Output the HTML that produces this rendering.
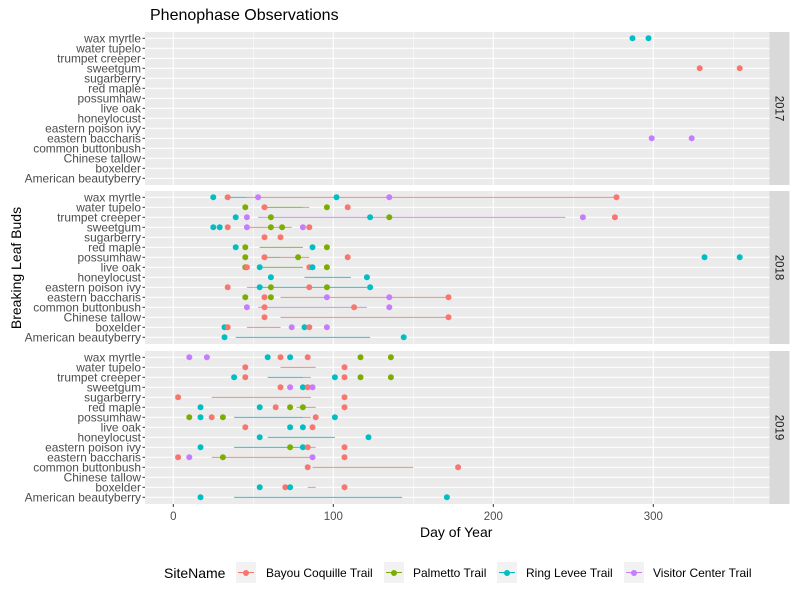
<!DOCTYPE html>
<html><head><meta charset="utf-8"><style>
body{margin:0;background:#fff;}
svg{display:block;font-family:"Liberation Sans",Arial,sans-serif;}
</style></head><body>
<svg id="chart" width="800" height="600"></svg>
<script>
const species=["wax myrtle","water tupelo","trumpet creeper","sweetgum","sugarberry","red maple","possumhaw","live oak","honeylocust","eastern poison ivy","eastern baccharis","common buttonbush","Chinese tallow","boxelder","American beautyberry"];
const sites=["Bayou Coquille Trail","Palmetto Trail","Ring Levee Trail","Visitor Center Trail"];
const years=["2017","2018","2019"];
const xTicks=[0,100,200,300];
const xMinor=[50,150,250,350];
const points2017=[[0,2,287],[0,2,297],[3,0,329],[3,0,354],[10,3,299],[10,3,324]];
const segs2017=[];
const points2018=[[0,2,25],[0,0,34],[0,3,53],[0,2,102],[0,3,135],[0,0,277],
[1,1,45],[1,0,57],[1,1,96],[1,0,109],
[2,2,39],[2,3,46],[2,1,61],[2,2,123],[2,1,135],[2,3,256],[2,0,276],
[3,2,25],[3,2,29],[3,0,34],[3,3,46],[3,1,61],[3,1,68],[3,3,81],[3,0,85],
[4,0,57],[4,0,67],
[5,2,39],[5,1,45],[5,2,87],[5,1,96],
[6,1,45],[6,0,57],[6,1,78],[6,0,109],[6,2,332],[6,2,354],
[7,1,45],[7,0,46],[7,2,54],[7,0,85],[7,2,87],[7,1,96],
[8,2,61],[8,2,121],
[9,0,34],[9,2,54],[9,1,61],[9,0,85],[9,1,96],[9,2,123],
[10,1,45],[10,0,57],[10,1,61],[10,3,96],[10,3,135],[10,0,172],
[11,3,46],[11,0,57],[11,0,113],[11,3,135],
[12,0,57],[12,0,172],
[13,2,32],[13,0,34],[13,3,74],[13,2,82],[13,0,85],[13,3,96],
[14,2,32],[14,2,144]];
const segs2018=[[0,2,32,46],[0,0,46,277],[1,1,55,81],[1,0,81,85],[2,3,53,245],[3,0,46,74],[5,1,54,81],[6,1,55,67],[6,0,67,85],[7,1,54,81],[8,2,82,111],[9,0,46,54],[9,2,54,121],[10,0,67,172],[11,3,53,121],[12,0,67,172],[13,0,46,67],[13,3,82,86],[14,2,39,123]];
const points2019=[[0,3,10],[0,3,21],[0,2,59],[0,0,67],[0,2,73],[0,0,84],[0,1,117],[0,1,136],
[1,0,45],[1,0,107],
[2,2,38],[2,0,45],[2,2,101],[2,0,107],[2,1,117],[2,1,136],
[3,0,67],[3,3,73],[3,2,81],[3,0,84],[3,3,87],
[4,0,3],[4,0,107],
[5,2,17],[5,2,54],[5,0,64],[5,1,73],[5,1,81],[5,0,107],
[6,1,10],[6,2,17],[6,0,24],[6,1,31],[6,0,89],[6,2,101],
[7,0,45],[7,2,73],[7,2,81],[7,0,87],
[8,2,54],[8,2,122],
[9,2,17],[9,1,73],[9,2,81],[9,0,84],[9,0,107],
[10,0,3],[10,3,10],[10,1,31],[10,3,87],[10,0,107],
[11,0,84],[11,0,178],
[13,2,54],[13,0,70],[13,2,73],[13,0,107],
[14,2,17],[14,2,171]];
const segs2019=[[1,0,67,89],[2,2,59,81],[2,0,81,86],[4,0,24,86],[5,0,77,89],[6,2,38,81],[6,0,81,86],[8,2,59,101],[9,2,38,81],[9,0,81,89],[10,0,24,86],[11,0,87,150],[13,0,84,89],[14,2,38,143]];

const colors=["#F8766D","#7CAE00","#00BFC4","#C77CFF"];
const NS="http://www.w3.org/2000/svg";
const svg=document.getElementById('chart');
function mk(tag,attrs,parent){const e=document.createElementNS(NS,tag);for(const k in attrs)e.setAttribute(k,attrs[k]);(parent||svg).appendChild(e);return e;}
const X0=145,X1=769.5;
function xs(d){return 173.3+d*1.6;}
const panelTops=[32,191,351];
const panelH=153;
function ys(p,row){return panelTops[p]+6.3+row*10;}
const allPts=[points2017,points2018,points2019];
const allSegs=[segs2017,segs2018,segs2019];

for(let p=0;p<3;p++){
  const g=mk('g',{});
  
  
  const bg=mk('rect',{x:X0,y:panelTops[p],width:X1-X0,height:panelH,fill:'#EBEBEB'},g);
  
  
  xMinor.forEach(v=>{mk('line',{x1:xs(v),x2:xs(v),y1:panelTops[p],y2:panelTops[p]+panelH,stroke:'#fff','stroke-width':0.55},g);});
  xTicks.forEach(v=>{mk('line',{x1:xs(v),x2:xs(v),y1:panelTops[p],y2:panelTops[p]+panelH,stroke:'#fff','stroke-width':1.1},g);});
  species.forEach((s,i)=>{
    mk('line',{x1:X0,x2:X1,y1:ys(p,i),y2:ys(p,i),stroke:'#fff','stroke-width':1.1},g);
    const t=mk('text',{x:141,y:ys(p,i)+4,'text-anchor':'end','font-size':11.9,fill:'#4D4D4D'},g);
    t.textContent=s;
    
    
    mk('line',{x1:142.5,x2:145,y1:ys(p,i),y2:ys(p,i),stroke:'#333','stroke-width':1},g);
  });
  allSegs[p].forEach(s=>{
    const l=mk('line',{x1:xs(s[2]),x2:xs(s[3]),y1:ys(p,s[0]),y2:ys(p,s[0]),stroke:colors[s[1]],'stroke-width':0.8},g);
    
    
  });
  allPts[p].forEach(pt=>{
    const c=mk('circle',{cx:xs(pt[2]),cy:ys(p,pt[0]),r:3,fill:colors[pt[1]]},g);
    
    
  });
  const st=mk('rect',{x:X1,y:panelTops[p],width:20,height:panelH,fill:'#D9D9D9'},g);
  
  
  const cy=panelTops[p]+panelH/2;
  const sl=mk('text',{x:0,y:0,'text-anchor':'middle','font-size':11.5,fill:'#1A1A1A',transform:'translate('+(X1+6)+','+cy+') rotate(90)'},g);
  sl.textContent=years[p];
  
  
}
xTicks.forEach(v=>{
  mk('line',{x1:xs(v),x2:xs(v),y1:504,y2:507,stroke:'#333','stroke-width':1});
  const t=mk('text',{x:xs(v),y:520,'text-anchor':'middle','font-size':11.5,fill:'#4D4D4D'});
  t.textContent=v;
  
  
});
</script>
<div style="position:absolute;left:0;top:0;width:800px;height:600px;pointer-events:none;font-family:'Liberation Sans',Arial,sans-serif;">
  <div style="position:absolute;left:150px;top:7px;font-size:16px;color:#000;">Phenophase Observations</div>
  <div style="position:absolute;left:420px;top:524px;font-size:14px;color:#000;">Day of Year</div>
  <div style="position:absolute;left:16px;top:268px;font-size:14px;color:#000;white-space:nowrap;transform:translate(-50%,-50%) rotate(-90deg);">Breaking Leaf Buds</div>
  <div style="position:absolute;left:164px;top:565px;height:20px;font-size:12px;color:#000;">
    <span style="position:absolute;left:0;top:0;font-size:14px;white-space:nowrap;">SiteName</span>
    <div style="position:absolute;left:72px;top:-3px;white-space:nowrap;">
      <span style="position:absolute;left:0;top:0;width:20px;height:21px;background:#F2F2F2;"></span>
      <span style="position:absolute;left:2px;top:10px;width:16px;height:1px;background:#F8766D;"></span>
      <span style="position:absolute;left:7px;top:7.5px;width:6px;height:6px;border-radius:50%;background:#F8766D;"></span>
      <span style="position:absolute;left:30px;top:4px;">Bayou Coquille Trail</span></div>
    <div style="position:absolute;left:220px;top:-3px;white-space:nowrap;">
      <span style="position:absolute;left:0;top:0;width:20px;height:21px;background:#F2F2F2;"></span>
      <span style="position:absolute;left:2px;top:10px;width:16px;height:1px;background:#7CAE00;"></span>
      <span style="position:absolute;left:7px;top:7.5px;width:6px;height:6px;border-radius:50%;background:#7CAE00;"></span>
      <span style="position:absolute;left:29px;top:4px;">Palmetto Trail</span></div>
    <div style="position:absolute;left:333px;top:-3px;white-space:nowrap;">
      <span style="position:absolute;left:0;top:0;width:20px;height:21px;background:#F2F2F2;"></span>
      <span style="position:absolute;left:2px;top:10px;width:16px;height:1px;background:#00BFC4;"></span>
      <span style="position:absolute;left:7px;top:7.5px;width:6px;height:6px;border-radius:50%;background:#00BFC4;"></span>
      <span style="position:absolute;left:29px;top:4px;">Ring Levee Trail</span></div>
    <div style="position:absolute;left:460px;top:-3px;white-space:nowrap;">
      <span style="position:absolute;left:0;top:0;width:20px;height:21px;background:#F2F2F2;"></span>
      <span style="position:absolute;left:2px;top:10px;width:16px;height:1px;background:#C77CFF;"></span>
      <span style="position:absolute;left:7px;top:7.5px;width:6px;height:6px;border-radius:50%;background:#C77CFF;"></span>
      <span style="position:absolute;left:29px;top:4px;">Visitor Center Trail</span></div>
  </div>
</div>
</body></html>
